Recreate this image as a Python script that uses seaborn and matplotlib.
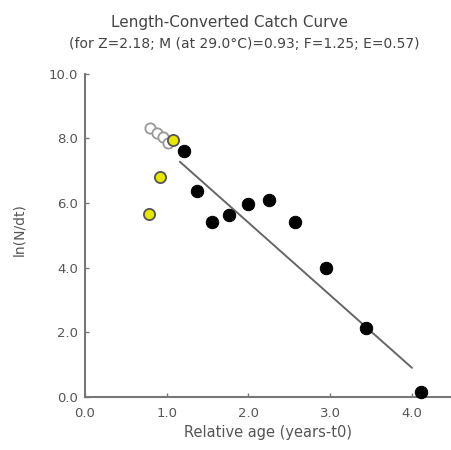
import matplotlib
matplotlib.use("Agg")
import matplotlib.pyplot as plt
import seaborn as sns

# Points used in regression (black)
used_x = [1.21, 1.37, 1.55, 1.76, 1.99, 2.25, 2.57, 2.95, 3.44, 4.11]
used_y = [7.62, 6.38, 5.42, 5.63, 5.98, 6.10, 5.42, 3.99, 2.14, 0.15]
# Points not used (yellow)
excl_x = [0.78, 0.92, 1.08]
excl_y = [5.67, 6.81, 7.96]
# Expected points (open)
open_x = [0.80, 0.88, 0.95, 1.02]
open_y = [8.33, 8.18, 8.05, 7.86]
# Regression line endpoints
line_x = [1.16, 4.00]
line_y = [7.28, 0.90]

x_ticks = [0.0, 1.0, 2.0, 3.0, 4.0]
y_ticks = [0.0, 2.0, 4.0, 6.0, 8.0, 10.0]

sns.set_style("white")
plt.rcParams['font.family'] = ['DejaVu Sans']

fig = plt.figure(figsize=(4.52, 4.5), dpi=100)
ax = fig.add_axes([0.188, 0.118, 0.812, 0.718])

txtc = "#555555"
sns.lineplot(x=line_x, y=line_y, ax=ax, color="#666666", linewidth=1.4)
sns.scatterplot(x=open_x, y=open_y, ax=ax, s=55, facecolor="white",
                edgecolor="#999999", linewidth=1.3, zorder=3)
sns.scatterplot(x=excl_x, y=excl_y, ax=ax, s=65, facecolor="#e6e600",
                edgecolor="#555555", linewidth=1.3, zorder=4)
sns.scatterplot(x=used_x, y=used_y, ax=ax, s=80, color="black",
                edgecolor="black", zorder=5, clip_on=False)

ax.set_xlim(0, 4.49)
ax.set_ylim(0, 10)
ax.set_xticks(x_ticks)
ax.set_yticks(y_ticks)
ax.set_xticklabels([f"{v:.1f}" for v in x_ticks])
ax.set_yticklabels([f"{v:.1f}" for v in y_ticks])
for s in ["top", "right"]:
    ax.spines[s].set_visible(False)
for s in ["left", "bottom"]:
    ax.spines[s].set_color("#777777")
    ax.spines[s].set_linewidth(1.5)
ax.tick_params(axis="x", pad=7)
ax.tick_params(direction="in", length=3, width=1, colors="#777777",
               labelsize=9.5, labelcolor=txtc,
               left=True, bottom=True)
ax.tick_params(axis="y", pad=5)
ax.set_xlabel("Relative age (years-t0)", fontsize=10.5, color=txtc, labelpad=4)
ax.set_ylabel("ln(N/dt)", fontsize=10, color=txtc)
ax.yaxis.set_label_coords(-0.16, 0.517)

fig.text(0.507, 0.95, "Length-Converted Catch Curve", ha="center", va="center",
         fontsize=11, color="#444444")
fig.text(0.54, 0.902, "(for Z=2.18; M (at 29.0\u00b0C)=0.93; F=1.25; E=0.57)",
         ha="center", va="center", fontsize=10, color="#444444")

fig.savefig("out.png", dpi=100)
